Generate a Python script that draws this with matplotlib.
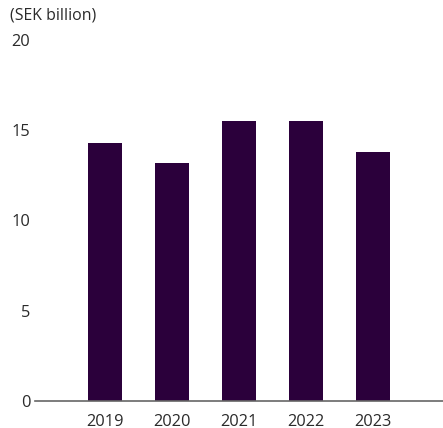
import matplotlib
matplotlib.use("Agg")
import matplotlib.pyplot as plt

years = ["2019", "2020", "2021", "2022", "2023"]
values = [14.3, 13.2, 15.5, 15.5, 13.8]
yticks = [0, 5, 10, 15, 20]

plt.rcParams['font.family'] = ['Open Sans', 'DejaVu Sans']

fig = plt.figure(figsize=(4.43, 4.28), dpi=100)
ax = fig.add_axes([35/443, 27/428, 1 - 35/443, (401-40)/428])

ax.bar(range(len(years)), values, width=0.51, color="#2b003b", zorder=2)

ax.set_xlim(-1.045, 5.05)
ax.set_ylim(0, 20)
ax.set_yticks(yticks)
ax.set_yticklabels([str(t) for t in yticks])
ax.set_xticks(range(len(years)))
ax.set_xticklabels(years)

for s in ["top", "right", "left"]:
    ax.spines[s].set_visible(False)
ax.spines["bottom"].set_color("#666666")
ax.spines["bottom"].set_linewidth(1.2)

ax.tick_params(axis="both", length=0, labelsize=11.8, colors="#2a2a2a")
ax.tick_params(axis="y", pad=3.5)
ax.tick_params(axis="x", pad=9)
for lab in ax.get_yticklabels():
    lab.set_horizontalalignment("right")

fig.text(10/443, 1 - 15/428, "(SEK billion)", fontsize=11.4, color="#2a2a2a", va="center", ha="left")

fig.savefig("out.png", dpi=100)
